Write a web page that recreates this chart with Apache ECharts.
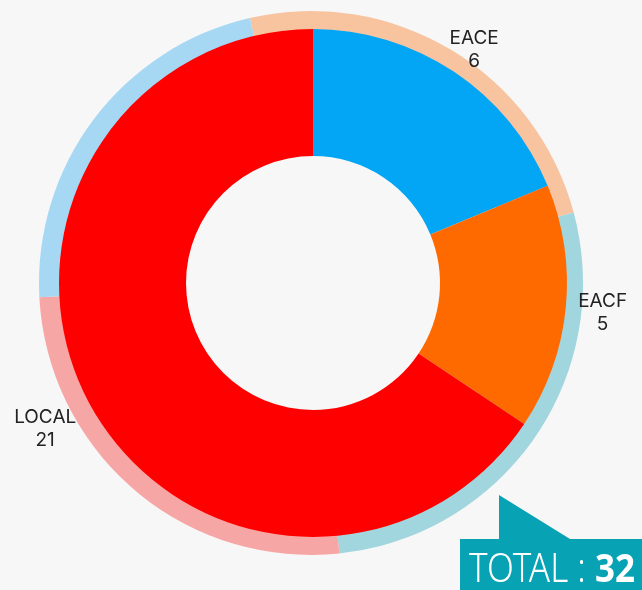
<!DOCTYPE html>
<html>
<head>
<meta charset="utf-8">
<script src="https://cdn.jsdelivr.net/npm/echarts@6/dist/echarts.min.js"></script>
<style>
html,body{margin:0;padding:0;background:#f7f7f7;}
#c{width:642px;height:590px;}
</style>
</head>
<body>
<div id="c"></div>
<script>
// Data
var categories = ['EACE', 'EACF', 'LOCAL'];
var values = [6, 5, 21];
var colors = ['#03a6f5', '#ff6a00', '#ff0000'];
var labelLengths = [27, 32, 44];
var labelShiftY = [0, 2, 5];
var totalLabel = 'TOTAL : ';
// decorative back ring arcs (degrees, clockwise from the top, starting at 347°)
var backArcs = [88, 99, 93, 80];
var backColors = ['#f8c4a0', '#a2d6df', '#f7a6a6', '#a6d7f3'];

var total = values.reduce(function (a, b) { return a + b; }, 0);

var chart = echarts.init(document.getElementById('c'), null, {renderer: 'canvas'});
var option = {
  backgroundColor: '#f7f7f7',
  animation: false,
  series: [
    {
      type: 'pie',
      silent: true,
      center: [311, 283],
      radius: [200, 272],
      startAngle: 103,
      clockwise: true,
      label: {show: false},
      labelLine: {show: false},
      data: backArcs.map(function (v, i) {
        return {value: v, itemStyle: {color: backColors[i]}};
      })
    },
    {
      type: 'pie',
      center: [313, 283],
      radius: [127, 254],
      startAngle: 90,
      clockwise: true,
      avoidLabelOverlap: false,
      label: {
        show: true,
        position: 'outside',
        formatter: '{b}\n{c}',
        color: '#222',
        fontFamily: 'Inter, "Noto Sans", sans-serif',
        fontSize: 19,
        lineHeight: 23
      },
      labelLine: {show: false, length2: 0},
      labelLayout: function (p) {
        return {align: 'center', verticalAlign: 'middle', dy: labelShiftY[p.dataIndex]};
      },
      data: categories.map(function (c, i) {
        return {
          name: c,
          value: values[i],
          itemStyle: {color: colors[i]},
          labelLine: {show: false, length: labelLengths[i], length2: 0}
        };
      })
    }
  ],
  graphic: [
    {
      type: 'polygon',
      shape: {points: [[460, 539], [499, 539], [499, 495], [570, 539], [642, 539], [642, 590], [460, 590]]},
      style: {fill: '#07a2b4'},
      z: 10
    },
    {
      type: 'text',
      x: 469,
      y: 551,
      scaleX: 0.875,
      z: 11,
      style: {
        text: '{a|' + totalLabel + '}{b|' + total + '}',
        rich: {
          a: {fontFamily: '"Noto Sans", sans-serif', fontSize: 40, fontWeight: 300, fill: '#ffffff'},
          b: {fontFamily: '"Noto Sans", sans-serif', fontSize: 40, fontWeight: 'bold', fill: '#ffffff'}
        }
      }
    }
  ]
};
chart.setOption(option);
</script>
</body>
</html>
